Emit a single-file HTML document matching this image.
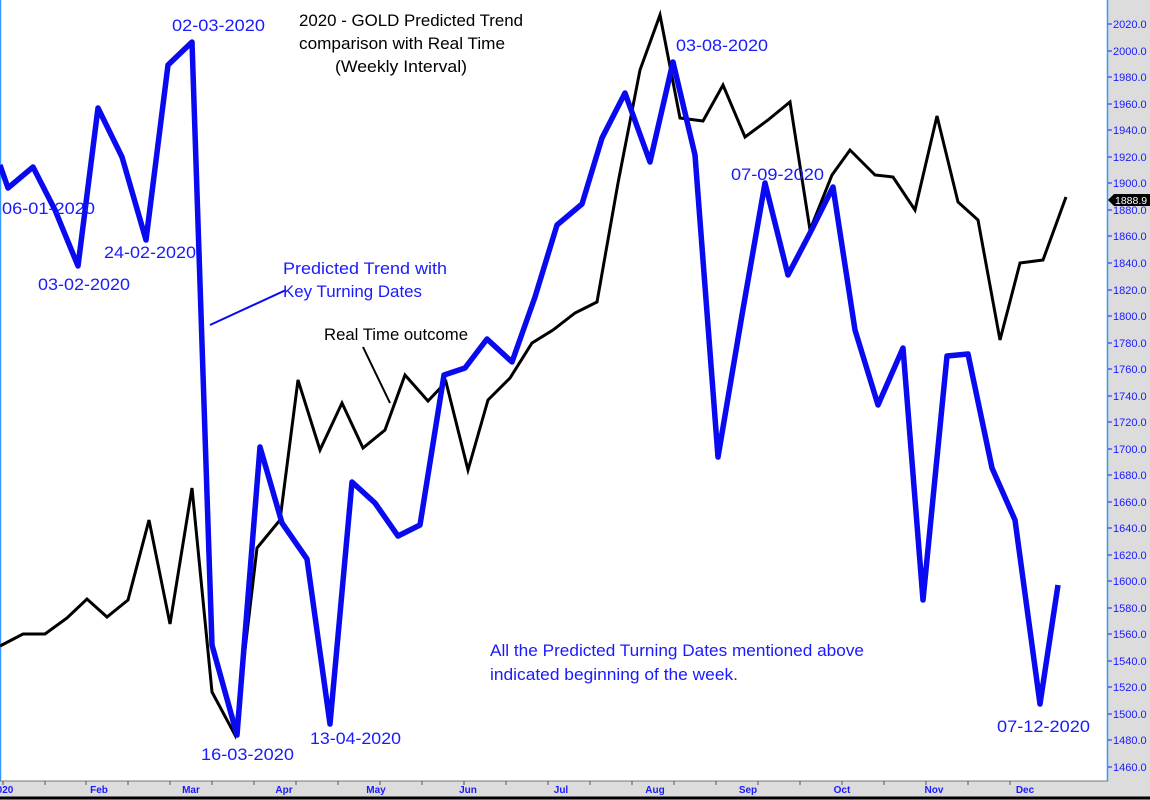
<!DOCTYPE html>
<html><head><meta charset="utf-8"><style>
html,body{margin:0;padding:0;background:#fff;}
svg{display:block;font-family:"Liberation Sans",sans-serif;}
</style></head><body>
<svg width="1150" height="800" viewBox="0 0 1150 800" xmlns="http://www.w3.org/2000/svg">
<rect x="0" y="0" width="1150" height="800" fill="#fff"/>
<rect x="1108" y="0" width="42" height="800" fill="#dcdcdc"/>
<rect x="0" y="781" width="1150" height="19" fill="#dcdcdc"/>
<line x1="1107.5" y1="0" x2="1107.5" y2="781" stroke="#3399ff" stroke-width="1.5"/>
<line x1="0.5" y1="0" x2="0.5" y2="781" stroke="#3399ff" stroke-width="1.5"/>
<line x1="0" y1="781" x2="1108" y2="781" stroke="#777" stroke-width="1"/>
<line x1="0" y1="798" x2="1150" y2="798" stroke="#000" stroke-width="3"/>
<g font-size="11" fill="#1a1aff" stroke="none">
<g stroke="#1a1aff" stroke-width="1">
<line x1="1108" y1="24" x2="1112" y2="24"/><line x1="1108" y1="51" x2="1112" y2="51"/><line x1="1108" y1="77" x2="1112" y2="77"/><line x1="1108" y1="104" x2="1112" y2="104"/><line x1="1108" y1="130" x2="1112" y2="130"/><line x1="1108" y1="157" x2="1112" y2="157"/><line x1="1108" y1="183" x2="1112" y2="183"/><line x1="1108" y1="210" x2="1112" y2="210"/><line x1="1108" y1="236" x2="1112" y2="236"/><line x1="1108" y1="263" x2="1112" y2="263"/><line x1="1108" y1="290" x2="1112" y2="290"/><line x1="1108" y1="316" x2="1112" y2="316"/><line x1="1108" y1="343" x2="1112" y2="343"/><line x1="1108" y1="369" x2="1112" y2="369"/><line x1="1108" y1="396" x2="1112" y2="396"/><line x1="1108" y1="422" x2="1112" y2="422"/><line x1="1108" y1="449" x2="1112" y2="449"/><line x1="1108" y1="475" x2="1112" y2="475"/><line x1="1108" y1="502" x2="1112" y2="502"/><line x1="1108" y1="528" x2="1112" y2="528"/><line x1="1108" y1="555" x2="1112" y2="555"/><line x1="1108" y1="581" x2="1112" y2="581"/><line x1="1108" y1="608" x2="1112" y2="608"/><line x1="1108" y1="634" x2="1112" y2="634"/><line x1="1108" y1="661" x2="1112" y2="661"/><line x1="1108" y1="687" x2="1112" y2="687"/><line x1="1108" y1="714" x2="1112" y2="714"/><line x1="1108" y1="740" x2="1112" y2="740"/><line x1="1108" y1="767" x2="1112" y2="767"/>
</g>
<text x="1113" y="28">2020.0</text><text x="1113" y="55">2000.0</text><text x="1113" y="81">1980.0</text><text x="1113" y="108">1960.0</text><text x="1113" y="134">1940.0</text><text x="1113" y="161">1920.0</text><text x="1113" y="187">1900.0</text><text x="1113" y="214">1880.0</text><text x="1113" y="240">1860.0</text><text x="1113" y="267">1840.0</text><text x="1113" y="294">1820.0</text><text x="1113" y="320">1800.0</text><text x="1113" y="347">1780.0</text><text x="1113" y="373">1760.0</text><text x="1113" y="400">1740.0</text><text x="1113" y="426">1720.0</text><text x="1113" y="453">1700.0</text><text x="1113" y="479">1680.0</text><text x="1113" y="506">1660.0</text><text x="1113" y="532">1640.0</text><text x="1113" y="559">1620.0</text><text x="1113" y="585">1600.0</text><text x="1113" y="612">1580.0</text><text x="1113" y="638">1560.0</text><text x="1113" y="665">1540.0</text><text x="1113" y="691">1520.0</text><text x="1113" y="718">1500.0</text><text x="1113" y="744">1480.0</text><text x="1113" y="771">1460.0</text>
</g>
<polygon points="1108,200 1114,194 1150,194 1150,206 1114,206" fill="#000"/>
<text x="1115" y="204" font-size="10.5" fill="#fff">1888.9</text>
<g stroke="#555" stroke-width="1">
<line x1="3" y1="781" x2="3" y2="785"/><line x1="45" y1="781" x2="45" y2="785"/><line x1="86" y1="781" x2="86" y2="785"/><line x1="128" y1="781" x2="128" y2="785"/><line x1="170" y1="781" x2="170" y2="785"/><line x1="212" y1="781" x2="212" y2="785"/><line x1="254" y1="781" x2="254" y2="785"/><line x1="296" y1="781" x2="296" y2="785"/><line x1="338" y1="781" x2="338" y2="785"/><line x1="380" y1="781" x2="380" y2="785"/><line x1="422" y1="781" x2="422" y2="785"/><line x1="464" y1="781" x2="464" y2="785"/><line x1="506" y1="781" x2="506" y2="785"/><line x1="548" y1="781" x2="548" y2="785"/><line x1="590" y1="781" x2="590" y2="785"/><line x1="632" y1="781" x2="632" y2="785"/><line x1="674" y1="781" x2="674" y2="785"/><line x1="716" y1="781" x2="716" y2="785"/><line x1="758" y1="781" x2="758" y2="785"/><line x1="800" y1="781" x2="800" y2="785"/><line x1="842" y1="781" x2="842" y2="785"/><line x1="884" y1="781" x2="884" y2="785"/><line x1="926" y1="781" x2="926" y2="785"/><line x1="968" y1="781" x2="968" y2="785"/><line x1="1010" y1="781" x2="1010" y2="785"/>
</g>
<g font-size="10" font-weight="bold" fill="#1a1aff" text-anchor="middle">
<text x="5" y="793">020</text><text x="99" y="793">Feb</text><text x="191" y="793">Mar</text><text x="284" y="793">Apr</text><text x="376" y="793">May</text><text x="468" y="793">Jun</text><text x="561" y="793">Jul</text><text x="655" y="793">Aug</text><text x="748" y="793">Sep</text><text x="842" y="793">Oct</text><text x="934" y="793">Nov</text><text x="1025" y="793">Dec</text>
</g>
<polyline fill="none" stroke="#000" stroke-width="3" stroke-linejoin="miter" points="0,646 23,634 45,634 67,618 87,599 107,617 128,600 149,520 170,624 192,488 212,692 235,735 257,548 280,520 298,380 320,450 342,403 363,448 385,430 405,375 428,401 446,382 468,470 488,400 510,378 532,343 553,330 575,313 597,302 618,183 640,70 660,15 680,118 703,121 723,85 745,137 768,120 790,102 810,230 832,175 850,150 875,175 893,177 915,210 937,116 958,202 978,220 1000,340 1020,263 1043,260 1066,197"/>
<polyline fill="none" stroke="#0a0af0" stroke-width="5.5" stroke-linejoin="round" points="0,165 8,188 33,167 55,210 78,266 98,108 122,157 146,240 168,65 192,42 212,645 237,735 260,447 282,523 307,559 330,724 352,482 375,503 398,536 420,525 444,375 465,368 487,339 512,362 535,297 557,225 582,204 602,138 625,93 650,162 673,62 695,155 718,457 742,315 765,183 788,275 810,233 833,187 855,330 878,405 903,348 923,600 947,356 968,354 992,468 1015,520 1040,704 1058,585"/>
<line x1="210" y1="325" x2="286" y2="290" stroke="#0a0af0" stroke-width="2"/>
<line x1="363" y1="347" x2="390" y2="403" stroke="#000" stroke-width="2"/>
<g font-size="17" fill="#1a1aff" lengthAdjust="spacingAndGlyphs">
<text x="172" y="31" textLength="93" lengthAdjust="spacingAndGlyphs">02-03-2020</text>
<text x="2" y="214" textLength="93" lengthAdjust="spacingAndGlyphs">06-01-2020</text>
<text x="38" y="290" textLength="92" lengthAdjust="spacingAndGlyphs">03-02-2020</text>
<text x="104" y="258" textLength="92" lengthAdjust="spacingAndGlyphs">24-02-2020</text>
<text x="283" y="274" textLength="164" lengthAdjust="spacingAndGlyphs">Predicted Trend  with</text>
<text x="283" y="297" textLength="139" lengthAdjust="spacingAndGlyphs">Key Turning Dates</text>
<text x="676" y="51" textLength="92" lengthAdjust="spacingAndGlyphs">03-08-2020</text>
<text x="731" y="180" textLength="93" lengthAdjust="spacingAndGlyphs">07-09-2020</text>
<text x="201" y="760" textLength="93" lengthAdjust="spacingAndGlyphs">16-03-2020</text>
<text x="310" y="744" textLength="91" lengthAdjust="spacingAndGlyphs">13-04-2020</text>
<text x="997" y="732" textLength="93" lengthAdjust="spacingAndGlyphs">07-12-2020</text>
<text x="490" y="656" textLength="374" lengthAdjust="spacingAndGlyphs">All the Predicted Turning Dates mentioned above</text>
<text x="490" y="680" textLength="248" lengthAdjust="spacingAndGlyphs">indicated beginning of the week.</text>
</g>
<g font-size="17" fill="#000">
<text x="299" y="26" textLength="224" lengthAdjust="spacingAndGlyphs">2020 - GOLD Predicted Trend</text>
<text x="299" y="49" textLength="206" lengthAdjust="spacingAndGlyphs">comparison with Real Time</text>
<text x="335" y="72" textLength="132" lengthAdjust="spacingAndGlyphs">(Weekly Interval)</text>
<text x="324" y="340" textLength="144" lengthAdjust="spacingAndGlyphs">Real Time outcome</text>
</g>
</svg>
</body></html>
